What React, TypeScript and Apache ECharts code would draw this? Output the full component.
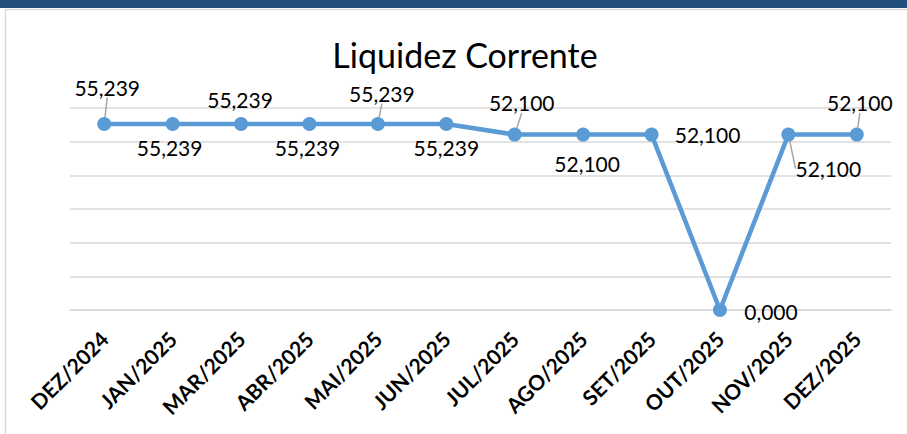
import React, { useEffect, useRef } from "react";
import * as echarts from "echarts";

const categories = [
  "DEZ/2024", "JAN/2025", "MAR/2025", "ABR/2025", "MAI/2025", "JUN/2025",
  "JUL/2025", "AGO/2025", "SET/2025", "OUT/2025", "NOV/2025", "DEZ/2025",
];
const liquidezValues = [
  55.239, 55.239, 55.239, 55.239, 55.239, 55.239,
  52.1, 52.1, 52.1, 0, 52.1, 52.1,
];
const yTicks = [0, 10, 20, 30, 40, 50, 60];

// label placement (offset of label centre from the point), style only
const labelOffsets: [number, number][] = [
  [3, -37], [-3, 23], [-1, -25], [-2, 23], [4, -31], [0, 23],
  [7, -32], [4, 29], [56, 0], [51, 1], [40, 34], [3, -32],
];
const leaderLines = [true, false, false, false, true, false, true, false, false, false, true, true];

const FONT = "Lato";

export default function App() {
  const ref = useRef<HTMLDivElement>(null);
  useEffect(() => {
    if (!ref.current) return;
    const chart = echarts.init(ref.current, undefined, { renderer: "svg" });
    const fmt = (v: number) => v.toFixed(3).replace(".", ",");
    chart.setOption({
      animation: false,
      backgroundColor: "#ffffff",
      textStyle: { fontFamily: FONT },
      graphic: [
        { type: "rect", left: 0, top: 0, shape: { width: 907, height: 8 }, style: { fill: "#23507A" }, z: 10 },
        { type: "rect", shape: { x: 5.5, y: 9.5, width: 1000, height: 1000 }, style: { fill: "none", stroke: "#D9D9D9", lineWidth: 1.5 }, z: -1 },
        {
          type: "text",
          x: 465,
          y: 54,
          style: {
            text: "Liquidez Corrente",
            font: `34px ${FONT}`,
            fill: "#000000",
            textAlign: "center",
            textVerticalAlign: "middle",
          },
        },
      ],
      grid: { left: 70, right: 16, top: 108, bottom: 124 },
      xAxis: {
        type: "category",
        data: categories,
        boundaryGap: true,
        axisLine: { show: true, lineStyle: { color: "#D9D9D9", width: 1.5 } },
        axisTick: { show: false },
        axisLabel: {
          rotate: 45,
          interval: 0,
          margin: 25,
          color: "#000000",
          fontFamily: FONT,
          fontWeight: "bold",
          fontSize: 21,
        },
      },
      yAxis: {
        type: "value",
        min: yTicks[0],
        max: yTicks[yTicks.length - 1],
        interval: yTicks[1] - yTicks[0],
        axisLabel: { show: false },
        axisLine: { show: false },
        axisTick: { show: false },
        splitLine: { show: true, lineStyle: { color: "#D9D9D9", width: 1.5 } },
      },
      series: [
        {
          type: "line",
          data: liquidezValues.map((v, i) => ({
            value: v,
            labelLine: { show: leaderLines[i] },
          })),
          symbol: "circle",
          symbolSize: 14,
          lineStyle: { color: "#5B9BD5", width: 4.5 },
          itemStyle: { color: "#5B9BD5" },
          label: {
            show: true,
            position: "inside",
            formatter: (p: any) => fmt(p.value),
            color: "#000000",
            fontFamily: FONT,
            fontSize: 21,
          },
          labelLine: { show: true, lineStyle: { color: "#A6A6A6", width: 1.5 } },
          labelLayout: (p: any) => {
            const o = labelOffsets[p.dataIndex] || [0, 0];
            return { dx: o[0], dy: o[1] };
          },
        },
      ],
    });
    return () => chart.dispose();
  }, []);
  return (
    <div
      ref={ref}
      style={{ position: "fixed", left: 0, top: 0, width: 907, height: 434, background: "#fff" }}
    />
  );
}
